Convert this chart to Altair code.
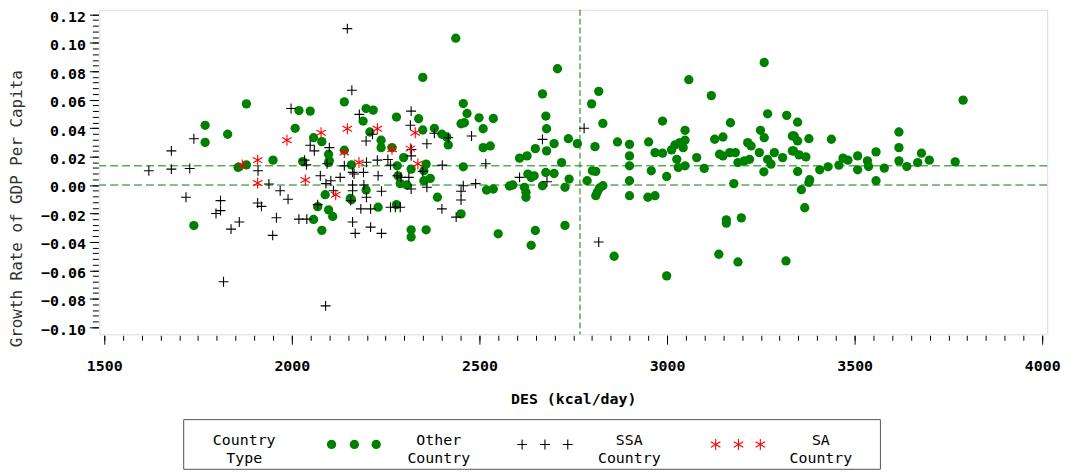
import altair as alt
import pandas as pd

# ---------------- data ----------------
other_des = [1769, 1769, 1739, 1829, 1879, 1857, 1879, 1950, 2019, 2049, 2009, 2058, 2080, 2029, 2098,
             2098, 2089, 2069, 2098, 2109, 2058, 2080, 2140, 2140, 2159, 2159, 2190, 2198, 2217, 2208,
             2238, 2238, 2198, 2230, 2279, 2267, 2281, 2283, 2289, 2279, 2298, 2318, 2307, 2338, 2349,
             2349, 2358, 2369, 2380, 2400, 2413, 2417, 2388, 2318, 2318, 2358, 2437, 2457, 2467, 2451,
             2460, 2499, 2510, 2537, 2510, 2529, 2457, 2451, 2519, 2537, 2550, 2352, 2352, 2100, 2156,
             2607, 2627, 2580, 2589, 2629, 2638, 2646, 2620, 2624, 2624, 2649, 2638, 2649, 2668, 2677,
             2679, 2679, 2668, 2677, 2699, 2699, 2708, 2719, 2728, 2739, 2728, 2737, 2761, 2787, 2799,
             2818, 2829, 2808, 2801, 2810, 2820, 2814, 2810, 2829, 2859, 2868, 2900, 2900, 2900, 2900,
             2900, 2951, 2958, 2949, 2968, 2968, 2988, 2988, 2999, 2999, 3012, 3021, 3026, 3030, 3034,
             3043, 3048, 3048, 3048, 3058, 3079, 3099, 3118, 3127, 3149, 3140, 3149, 3167, 3169, 3178,
             3158, 3158, 3198, 3182, 3189, 3138, 3189, 3206, 3215, 3220, 3249, 3259, 3268, 3259, 3258,
             3277, 3286, 3308, 3317, 3319, 3334, 3334, 3224, 3246, 3268,
             3348, 3339, 3348, 3337, 3352, 3370, 3348, 3378, 3380, 3378, 3358, 3367, 3438, 3407, 3429,
             3458, 3469, 3482, 3508, 3508, 3534, 3537, 3557, 3557, 3579, 3618, 3618, 3618, 3639, 3668,
             3678, 3699, 3768, 3789]
other_growth = [0.042, 0.030, -0.0285, 0.0357, 0.0571, 0.0124, 0.0142, 0.0175, 0.0524, 0.052, 0.0399, 0.0333, 0.0305, 0.0165, 0.0217,
                0.0158, -0.0068, -0.0152, -0.0175, -0.0221, -0.0242, -0.0319, 0.0585, 0.0245, 0.0142, -0.0103, 0.045, 0.0538, 0.0527, 0.0373,
                0.0315, 0.0263, -0.0035, -0.0156, 0.0478, 0.0263, 0.0135, 0.0065, 0.001, -0.0138, 0.0193, 0.0112, 0.0, 0.0466, 0.0387,
                0.0757, 0.0147, 0.0047, 0.0399, 0.0357, 0.0338, 0.0282, -0.0086, -0.0315, -0.0366, -0.0315, 0.1033, 0.0573, 0.0503, 0.0431,
                0.0438, 0.0473, 0.0396, 0.0468, 0.0263, 0.0275, 0.0128, -0.0203, -0.0035, -0.0028, -0.0343, 0.010, 0.003, 0.017, -0.0095,
                0.0189, 0.0205, -0.0007, 0.0, 0.0077, 0.0054, 0.0065, -0.0016, -0.0051, -0.0086, -0.032, -0.0424, 0.0256, 0.0641, 0.0485,
                0.0396, 0.024, -0.0005, 0.0088, 0.0081, 0.0291, 0.0818, 0.0158, -0.0016, 0.0042, -0.0284, 0.0326, 0.0291, 0.003, 0.0571,
                0.0659, 0.0433, 0.027, 0.010, 0.0096, -0.0021, -0.0051, -0.0075, -0.0005, -0.0501, 0.0303, 0.0286, 0.0205, 0.0135, 0.003,
                -0.0075, 0.0303, 0.010, -0.0086, -0.0075, 0.0228, 0.0224, 0.045, 0.006, -0.0639, 0.0247, 0.0282, 0.0181, 0.0123, 0.0298,
                0.0263, 0.0385, 0.0315, 0.0135, 0.0741, 0.0193, 0.0117, 0.0629, 0.0322, 0.0338, 0.0217, 0.0205, 0.0228, 0.0438, 0.001,
                -0.0245, -0.0268, -0.0231, 0.0228, 0.0158, -0.0487, -0.0541, 0.017, 0.0298, 0.0181, 0.0385, 0.0862, 0.0501, 0.0333, 0.0093,
                0.0147, 0.0228, 0.0193, -0.0534, 0.049, 0.0345, 0.024, 0.0275, 0.0228, 0.0181,
                0.0442, 0.0345, 0.031, 0.024, 0.0212, 0.0198, 0.0095, 0.0326, 0.0037, 0.0018, -0.0033, -0.016, 0.0322, 0.0107, 0.0128,
                0.014, 0.0189, 0.0175, 0.0205, 0.0107, 0.017, 0.013, 0.0233, 0.003, 0.0119, 0.0373, 0.0263, 0.017, 0.013, 0.0158,
                0.0224, 0.0175, 0.0163, 0.0597]

ssa_des = [1619, 1679, 1679, 1728, 1739, 1718, 1810, 1810, 1798, 1838, 1860, 1818, 1910, 1909, 1919,
           1939, 1969, 1990, 1959, 1949, 1998, 2019, 2040, 2034, 2039, 2049, 2060, 2076, 2091, 2100,
           2094, 2104, 2111, 2090, 2069, 2129, 2140, 2148, 2160, 2162, 2166, 2162, 2162, 2157, 2162,
           2169, 2180, 2192, 2199, 2184, 2210, 2210, 2191, 2199, 2198, 2215, 2230, 2239, 2239, 2228,
           2256, 2263, 2263, 2276, 2289, 2281, 2291, 2312, 2318, 2318, 2316, 2318, 2319, 2349, 2360,
           2360, 2380, 2401, 2400, 2417, 2438, 2451, 2451, 2457, 2479, 2490, 2517, 2607, 2668, 2680,
           2779, 2818]
ssa_growth = [0.010, 0.024, 0.0112, 0.0116, 0.0326, -0.0086, -0.011, -0.018, -0.020, -0.031, -0.026, -0.068, 0.010, -0.0126, -0.015,
              0.0007, -0.004, -0.010, -0.023, -0.0354, 0.0538, -0.024, -0.024, 0.0175, 0.0142, 0.028, 0.024, 0.0065, 0.001, 0.0263,
              0.015, 0.003, -0.004, -0.085, -0.0138, 0.0054, 0.0135, 0.110, 0.0667, 0.0089, 0.0077, 0.0, -0.004, -0.011, -0.026,
              -0.034, 0.0497, 0.0, -0.0086, -0.0168, -0.0168, -0.0296, 0.0089, 0.016, 0.031, 0.0357, 0.0065, -0.0044, -0.034, 0.0175,
              0.018, 0.014, -0.0156, -0.0156, -0.0156, 0.0065, 0.0054, 0.0054, -0.0028, 0.052, 0.042, 0.0205, 0.025, 0.0096, 0.029,
              -0.0016, 0.0364, 0.014, -0.0168, 0.0333, -0.0226, -0.0105, -0.0044, -0.0005, 0.0345, 0.001, 0.015, 0.0054, 0.0321, 0.0023,
              0.0399, -0.0401]

sa_des = [1868, 1909, 1909, 1987, 2036, 2078, 2117, 2140, 2148, 2179, 2228, 2267, 2316, 2329, 2336]
sa_growth = [0.0142, 0.0175, 0.0014, 0.0315, 0.0035, 0.0368, -0.0068, 0.0228, 0.0396, 0.0158, 0.0396, 0.0252, 0.0256, 0.0368, 0.015]

ref_des = [2768]
ref_growth = [0.0, 0.0135]

x_ticks = [1500, 2000, 2500, 3000, 3500, 4000]
y_ticks = [-0.10, -0.08, -0.06, -0.04, -0.02, 0.00, 0.02, 0.04, 0.06, 0.08, 0.10, 0.12]
x_minor = list(range(1500, 4001, 50))
y_minor = [round(-0.10 + 0.004 * i, 3) for i in range(56)]

legend_title = "Country\nType"
legend_labels = ["Other\nCountry", "SSA\nCountry", "SA\nCountry"]

# ---------------- styling ----------------
GREEN = "#008000"
FONT = "DejaVu Sans Mono"
PLUS = "M-1,0L1,0M0,-1L0,1"
STAR = "M0,-1L0,1M-0.87,-0.5L0.87,0.5M-0.87,0.5L0.87,-0.5"

XDOM = [1487, 4013]
YDOM = [-0.105, 0.1233]

other_df = pd.DataFrame({"des": other_des, "growth": other_growth})
ssa_df = pd.DataFrame({"des": ssa_des, "growth": ssa_growth})
sa_df = pd.DataFrame({"des": sa_des, "growth": sa_growth})
xs = alt.Scale(domain=XDOM, nice=False, zero=False)
ys = alt.Scale(domain=YDOM, nice=False, zero=False)

x_axis = alt.Axis(values=x_ticks, format="d", title="DES (kcal/day)", domain=False, grid=False,
                  orient="bottom", tickSize=9, offset=1, tickColor="#000", labelFont=FONT,
                  labelFontWeight="bold", labelFontSize=15, labelColor="#000", labelPadding=14,
                  titleFont=FONT, titleFontWeight="bold", titleFontSize=15, titleColor="#000",
                  titleY=64, titleBaseline="middle")
y_axis = alt.Axis(values=y_ticks, format=".2f", title="Growth Rate of GDP Per Capita", domain=False,
                  orient="left", grid=False, tickSize=9, offset=1, tickColor="#000", labelFont=FONT,
                  labelFontWeight="bold", labelFontSize=15, labelColor="#000", labelPadding=4,
                  labelOffset=2,
                  titleFont=FONT, titleFontWeight="normal", titleFontSize=16, titleColor="#333",
                  titleX=-82, titleY=200, titleAngle=-90, titleBaseline="middle", titleAlign="center")

base_other = alt.Chart(other_df).mark_circle(size=88, color=GREEN, opacity=1).encode(
    x=alt.X("des:Q", scale=xs, axis=x_axis),
    y=alt.Y("growth:Q", scale=ys, axis=y_axis),
)

minor_x = alt.Chart(pd.DataFrame({"des": x_minor})).mark_point(opacity=0).encode(
    x=alt.X("des:Q", scale=xs, axis=alt.Axis(values=x_minor, labels=False, domain=False, grid=False,
                                             orient="bottom", tickSize=5, offset=1, tickColor="#000",
                                             title=None)),
)
minor_y = alt.Chart(pd.DataFrame({"growth": y_minor})).mark_point(opacity=0).encode(
    y=alt.Y("growth:Q", scale=ys, axis=alt.Axis(values=y_minor, labels=False, domain=False, grid=False,
                                                orient="left", tickSize=6, offset=1, tickColor="#000",
                                                title=None)),
)

ssa = alt.Chart(ssa_df).mark_point(shape=PLUS, size=100, color="#000", strokeWidth=1.1, opacity=1,
                                    filled=False).encode(
    x=alt.X("des:Q", scale=xs, axis=None),
    y=alt.Y("growth:Q", scale=ys, axis=None),
)
sa = alt.Chart(sa_df).mark_point(shape=STAR, size=121, color="#ff0000", strokeWidth=1.1, opacity=1,
                                  filled=False).encode(
    x=alt.X("des:Q", scale=xs, axis=None),
    y=alt.Y("growth:Q", scale=ys, axis=None),
)

hrules = alt.Chart(pd.DataFrame({"growth": ref_growth})).mark_rule(
    color=GREEN, strokeWidth=1, strokeDash=[8, 4]).encode(
    y=alt.Y("growth:Q", scale=ys, axis=None))
vrule = alt.Chart(pd.DataFrame({"des": ref_des})).mark_rule(
    color=GREEN, strokeWidth=1, strokeDash=[6, 3]).encode(
    x=alt.X("des:Q", scale=xs, axis=None))

# ---------------- legend (drawn below the plot, in pixels from the plot origin) ----------------
one = alt.Data(values=[{"k": 0}])
legend_box = alt.Chart(one).mark_rect(fill="white", stroke="#555", strokeWidth=1).encode(
    x=alt.value(85), x2=alt.value(787), y=alt.value(413), y2=alt.value(463))


def legend_text(label, cx):
    return alt.Chart(alt.Data(values=[{"t": label}])).mark_text(
        font=FONT, fontSize=15, color="#000", lineBreak="\n", align="center", baseline="middle",
        lineHeight=18).encode(text="t:N", x=alt.value(cx), y=alt.value(434))


legend_layers = [legend_box, legend_text(legend_title, 146)]
sym_y = 438
for cx in (234, 257, 279):
    legend_layers.append(alt.Chart(one).mark_circle(size=88, color=GREEN, opacity=1).encode(
        x=alt.value(cx), y=alt.value(sym_y)))
legend_layers.append(legend_text(legend_labels[0], 342))
for cx in (426, 449, 472):
    legend_layers.append(alt.Chart(one).mark_point(shape=PLUS, size=100, color="#000", strokeWidth=1.1,
                                                   opacity=1).encode(x=alt.value(cx), y=alt.value(sym_y)))
legend_layers.append(legend_text(legend_labels[1], 534))
for cx in (621, 644, 666):
    legend_layers.append(alt.Chart(one).mark_point(shape=STAR, size=121, color="#ff0000", strokeWidth=1.1,
                                                   opacity=1).encode(x=alt.value(cx), y=alt.value(sym_y)))
legend_layers.append(legend_text(legend_labels[2], 727))

chart = alt.layer(
    hrules, vrule, base_other, minor_x, minor_y, ssa, sa, *legend_layers
).resolve_axis(x="independent", y="independent").properties(
    width=955, height=327,
    padding={"left": 92, "top": 0, "right": 20, "bottom": 137},
    autosize=alt.AutoSizeParams(type="none"),
).configure_view(stroke="#555", strokeWidth=1).configure(background="white")

chart.save("out.html", embed_options={"renderer": "svg", "actions": False})
